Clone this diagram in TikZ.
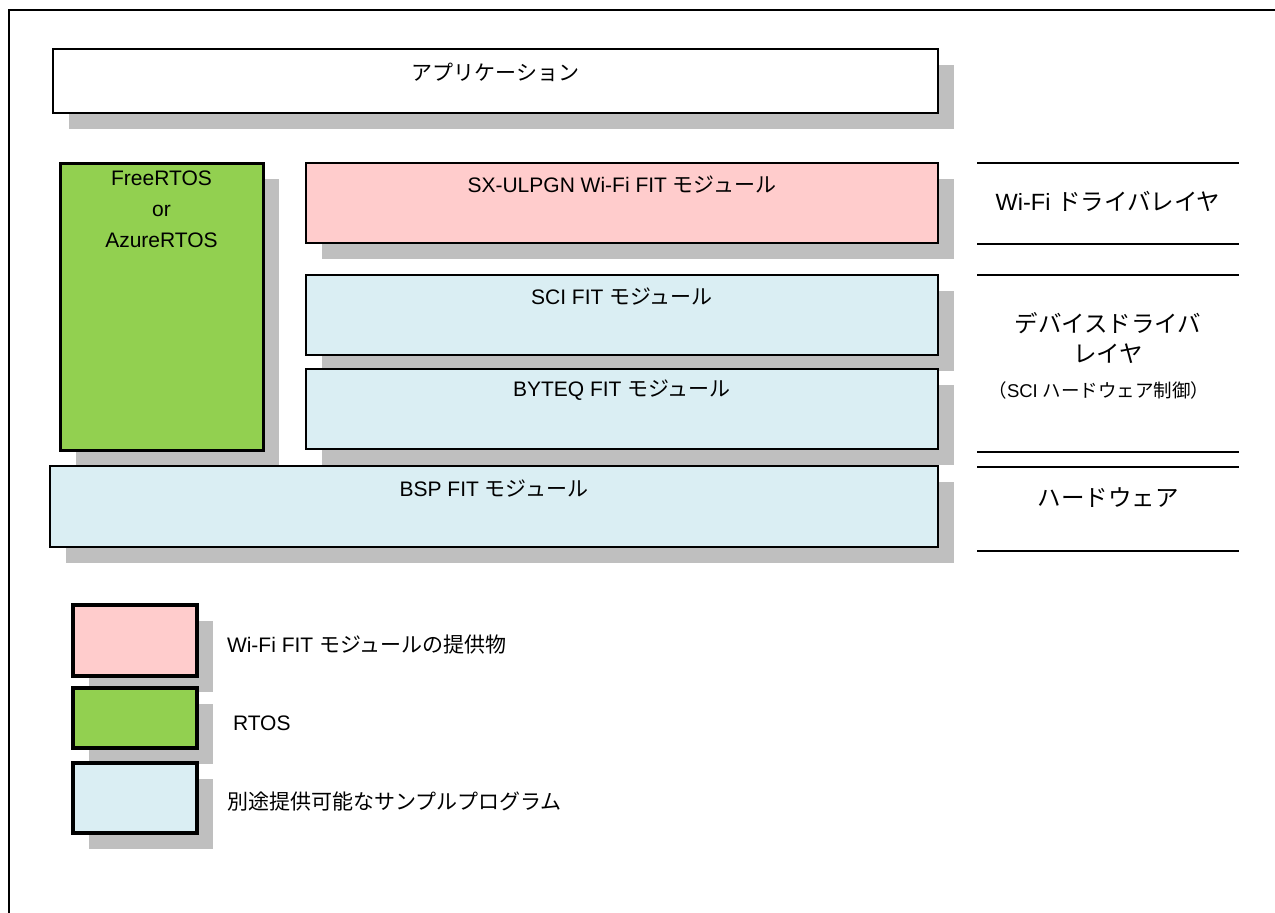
\documentclass[tikz,border=0pt]{standalone}
\usepackage{fontspec}
\setmainfont{Liberation Sans}
\newfontfamily\jp{Noto Sans CJK JP}
\usetikzlibrary{shadows}

\definecolor{shgray}{HTML}{BFBFBF}
\definecolor{wifipink}{HTML}{FFCCCC}
\definecolor{rtosgreen}{HTML}{92D050}
\definecolor{samplblue}{HTML}{DAEEF3}

\begin{document}
\begin{tikzpicture}[x=1pt, y=-1pt,
    every node/.style={inner sep=0pt, outer sep=0pt, font=\fontsize{21}{31}\selectfont},
    layer/.style={draw=black, line width=1.6pt, anchor=north west,
      drop shadow={shadow xshift=16pt, shadow yshift=-16pt, fill=shgray, opacity=1}},
    keybox/.style={layer, line width=3.5pt, minimum width=124pt},
    side/.style={font=\fontsize{23.5}{30}\selectfont, align=center},
    sepline/.style={line width=1.8pt}]
  \useasboundingbox (0,0) rectangle (1275,913);
  \begin{scope}
    \clip (0,0) rectangle (1275,913);
    \draw[line width=2pt] (9,10) rectangle (1300,950);
  \end{scope}

  % layers
  \node[layer, fill=white, minimum width=885pt, minimum height=64pt] (app) at (53,49) {};
  \node at ([yshift=-23pt]app.north) {\jp アプリケーション};

  \node[layer, fill=rtosgreen, line width=3pt, minimum width=203pt, minimum height=287pt] (rtos) at (60,163) {};
  \node[align=center, anchor=north] at ([yshift=-8pt]rtos.north) {FreeRTOS\\or\\AzureRTOS};

  \node[layer, fill=wifipink, minimum width=632pt, minimum height=80pt] (sx) at (306,163) {};
  \node at ([yshift=-22pt]sx.north) {SX-ULPGN Wi-Fi FIT {\jp モジュール}};

  \node[layer, fill=samplblue, minimum width=632pt, minimum height=80pt] (sci) at (306,275) {};
  \node at ([yshift=-22pt]sci.north) {SCI FIT {\jp モジュール}};

  \node[layer, fill=samplblue, minimum width=632pt, minimum height=80pt] (byteq) at (306,369) {};
  \node at ([yshift=-21pt]byteq.north) {BYTEQ FIT {\jp モジュール}};

  \node[layer, fill=samplblue, minimum width=888pt, minimum height=81pt] (bsp) at (50,466) {};
  \node at ([yshift=-23pt]bsp.north) {BSP FIT {\jp モジュール}};

  % layer names on the right
  \coordinate (wl1) at (977,163);  \coordinate (wr1) at (1239,163);
  \coordinate (wl2) at (977,244);  \coordinate (wr2) at (1239,244);
  \coordinate (dl1) at (977,275);  \coordinate (dr1) at (1239,275);
  \coordinate (dl2) at (977,452);  \coordinate (dr2) at (1239,452);
  \coordinate (hl1) at (977,467);  \coordinate (hr1) at (1239,467);
  \coordinate (hl2) at (977,551);  \coordinate (hr2) at (1239,551);
  \draw[sepline] (wl1) -- (wr1) (wl2) -- (wr2) (dl1) -- (dr1)
    (dl2) -- (dr2) (hl1) -- (hr1) (hl2) -- (hr2);

  \node[side] (wifilyr) at (1108,201) {Wi-Fi {\jp ドライバレイヤ}};
  \node[side] (devlyr) at (1108,338) {\jp デバイスドライバ\\\jp レイヤ};
  \node[font=\fontsize{18.5}{20}\selectfont] (scihw) at (1099,390) {{\jp （}SCI {\jp ハードウェア制御）}};
  \node[side] (hwlyr) at (1108,498) {\jp ハードウェア};

  % legend
  \node[keybox, fill=wifipink, minimum height=71pt] (keywifi) at (73,605) {};
  \node[anchor=west] (txtwifi) at (227,645) {Wi-Fi FIT {\jp モジュールの提供物}};
  \node[keybox, fill=rtosgreen, minimum height=60pt] (keyrtos) at (73,688) {};
  \node[anchor=west] (txtrtos) at (233,723) {RTOS};
  \node[keybox, fill=samplblue, minimum height=70pt] (keysmpl) at (73,763) {};
  \node[anchor=west] (txtsmpl) at (227,802) {\jp 別途提供可能なサンプルプログラム};
\end{tikzpicture}
\end{document}
